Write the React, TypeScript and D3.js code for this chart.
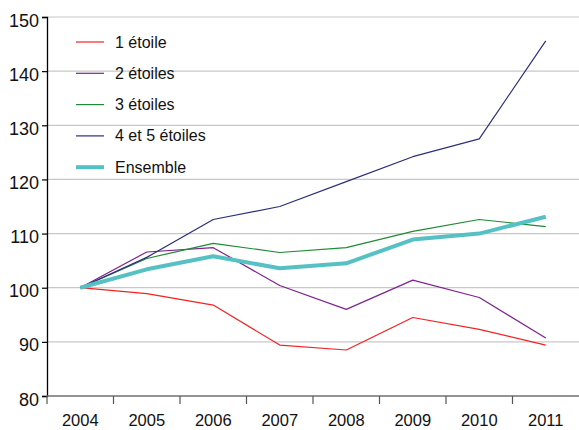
import React, { useRef, useEffect } from 'react'
import * as d3 from 'd3'

const years = ['2004', '2005', '2006', '2007', '2008', '2009', '2010', '2011']
const yTicks = [80, 90, 100, 110, 120, 130, 140, 150]

const etoile1 = [100, 98.9, 96.8, 89.4, 88.5, 94.5, 92.3, 89.4]
const etoiles2 = [100, 106.6, 107.4, 100.4, 96.0, 101.4, 98.2, 90.7]
const etoiles3 = [100, 105.4, 108.2, 106.5, 107.4, 110.4, 112.6, 111.3]
const etoiles45 = [100, 105.6, 112.6, 115.0, 119.6, 124.2, 127.5, 145.6]
const ensemble = [100, 103.4, 105.8, 103.6, 104.5, 108.9, 110.0, 113.1]

const seriesNames = ['1 étoile', '2 étoiles', '3 étoiles', '4 et 5 étoiles', 'Ensemble']
const seriesValues = [etoile1, etoiles2, etoiles3, etoiles45, ensemble]
const seriesColors = ['#f52222', '#7e2290', '#1f8a35', '#2b2f78', '#55c1c5']
const seriesWidths = [1.2, 1.2, 1.2, 1.2, 4]

const font = '"Liberation Sans", Arial, sans-serif'

export default function App() {
  const svgRef = useRef<SVGSVGElement>(null)

  const W = 579
  const H = 430
  const margin = { top: 17, right: 0, bottom: 34, left: 47 }
  const innerW = W - margin.left - margin.right
  const innerH = H - margin.top - margin.bottom

  useEffect(() => {
    const svg = d3.select(svgRef.current)
    svg.selectAll('*').remove()

    const g = svg.append('g').attr('transform', `translate(${margin.left},${margin.top})`)

    const x = d3.scaleBand().domain(years).range([0, innerW])
    const y = d3.scaleLinear().domain([80, 150]).range([innerH, 0])

    // gridlines
    g.append('g')
      .selectAll('line')
      .data(yTicks.filter(t => t > 80))
      .enter()
      .append('line')
      .attr('x1', 0)
      .attr('x2', innerW)
      .attr('y1', d => y(d))
      .attr('y2', d => y(d))
      .attr('stroke', '#c8c8c8')
      .attr('stroke-width', 1.2)

    // y axis
    const yAxis = d3.axisLeft(y).tickValues(yTicks).tickSize(5).tickPadding(3)
    const yg = g.append('g').call(yAxis)
    yg.select('.domain').attr('stroke', '#000').attr('stroke-width', 1.3)
    yg.selectAll('.tick line').attr('stroke', '#000').attr('stroke-width', 1.2)
    yg.selectAll('.tick text')
      .attr('font-family', font)
      .attr('font-size', 18)
      .attr('dy', '0.5em')
      .attr('fill', '#111')

    // x axis
    const xg = g.append('g').attr('transform', `translate(0,${innerH})`)
    xg.append('line')
      .attr('x1', 0).attr('x2', innerW)
      .attr('y1', 0).attr('y2', 0)
      .attr('stroke', '#707070').attr('stroke-width', 1.3)
    const bounds = years.map(d => x(d) as number)
    xg.selectAll('line.tk')
      .data(bounds)
      .enter()
      .append('line')
      .attr('class', 'tk')
      .attr('x1', d => d).attr('x2', d => d)
      .attr('y1', 0).attr('y2', 8)
      .attr('stroke', '#555').attr('stroke-width', 1.2)
    xg.selectAll('text')
      .data(years)
      .enter()
      .append('text')
      .attr('x', d => (x(d) as number) + x.bandwidth() / 2)
      .attr('y', 30)
      .attr('text-anchor', 'middle')
      .attr('font-family', font)
      .attr('font-size', 16.5)
      .attr('fill', '#111')
      .text(d => d)

    const line = d3.line<number>()
      .x((_, i) => (x(years[i]) as number) + x.bandwidth() / 2)
      .y(d => y(d))

    seriesValues.forEach((vals, i) => {
      g.append('path')
        .datum(vals)
        .attr('fill', 'none')
        .attr('stroke', seriesColors[i])
        .attr('stroke-width', seriesWidths[i])
        .attr('stroke-linejoin', 'round')
        .attr('d', line)
    })

    // legend
    const leg = svg.append('g').attr('transform', 'translate(76,42)')
    seriesNames.forEach((name, i) => {
      const row = leg.append('g').attr('transform', `translate(0,${i * 31.3})`)
      row.append('line')
        .attr('x1', 0).attr('x2', 28)
        .attr('y1', 0).attr('y2', 0)
        .attr('stroke', seriesColors[i])
        .attr('stroke-width', seriesWidths[i])
      row.append('text')
        .attr('x', 39)
        .attr('y', 5.5)
        .attr('font-family', font)
        .attr('font-size', 16)
        .attr('fill', '#111')
        .text(name)
    })
  }, [])

  return (
    <svg
      ref={svgRef}
      width={W}
      height={H}
      style={{ position: 'absolute', left: 0, top: 0, background: '#fff' }}
    />
  )
}
